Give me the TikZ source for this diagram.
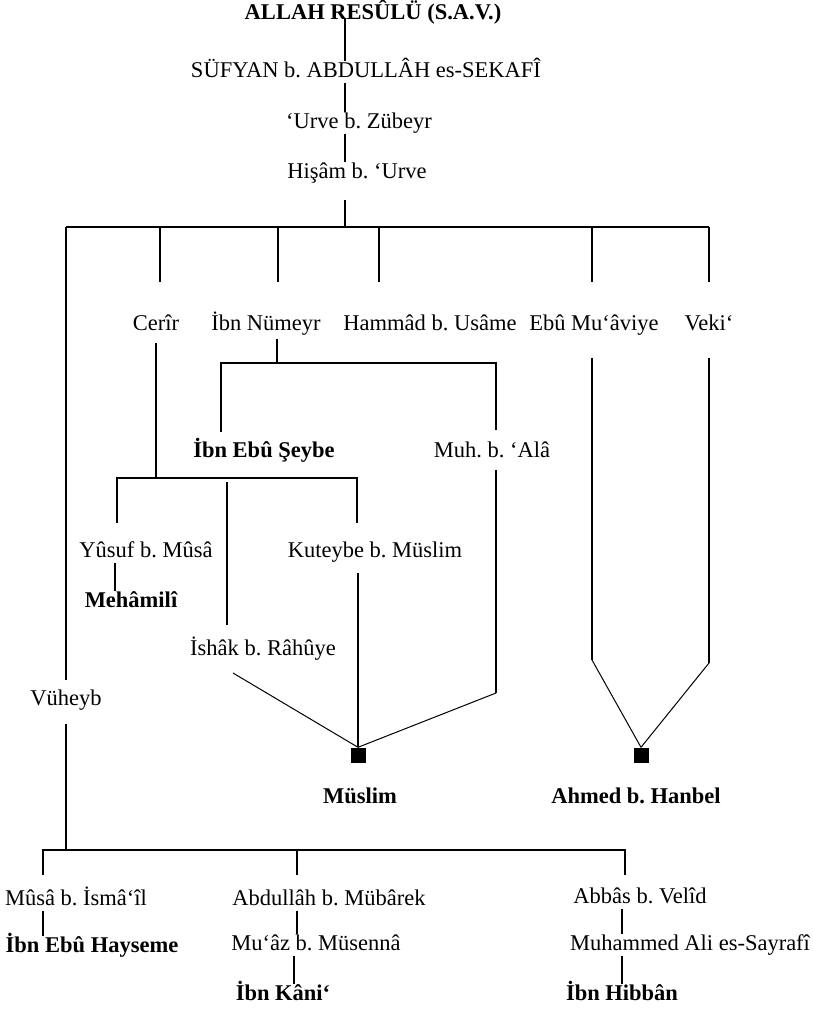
\documentclass[tikz,border=0pt]{standalone}
\usepackage{fontspec}
\setmainfont{Liberation Serif}
\usepackage{tikz}
\frenchspacing

\begin{document}
\begin{tikzpicture}[x=1pt,y=-1pt,
  ravi/.style={font=\fontsize{22.5}{27}\selectfont,text height=14pt,text depth=4pt,inner sep=1.5pt},
  musannif/.style={ravi,font=\bfseries\fontsize{22.5}{27}\selectfont},
  kutu/.style={fill=black,minimum size=15pt,inner sep=0pt},
  hat/.style={line width=1.8pt},
  ince/.style={line width=1pt}]
  \useasboundingbox (0,0) rectangle (813,1015);
  \node[musannif] (resul) at (373,14) {ALLAH RESÛLÜ (S.A.V.)};
  \node[ravi] (sufyan) at (366,72) {SÜFYAN b. ABDULLÂH es-SEKAFÎ};
  \node[ravi] (urve) at (359,123) {‘Urve b. Zübeyr};
  \node[ravi] (hisam) at (357,173) {Hişâm b. ‘Urve};
  \node[ravi] (cerir) at (156,325) {Cerîr};
  \node[ravi] (numeyr) at (266,325) {İbn Nümeyr};
  \node[ravi] (hammad) at (430,325) {Hammâd b. Usâme};
  \node[ravi] (muaviye) at (594,325) {Ebû Mu‘âviye};
  \node[ravi] (veki) at (709,325) {Veki‘};
  \node[musannif] (seybe) at (264,452) {İbn Ebû Şeybe};
  \node[ravi] (ala) at (492,452) {Muh. b. ‘Alâ};
  \node[ravi] (yusuf) at (146,552) {Yûsuf b. Mûsâ};
  \node[ravi] (kuteybe) at (375,552) {Kuteybe b. Müslim};
  \node[musannif] (mehamili) at (131,602) {Mehâmilî};
  \node[ravi] (ishak) at (263,650) {İshâk b. Râhûye};
  \node[ravi] (vuheyb) at (66,700) {Vüheyb};
  \node[kutu] (muslimkutu) at (358,755) {};
  \node[kutu] (hanbelkutu) at (641,755) {};
  \node[musannif] (muslim) at (360,798) {Müslim};
  \node[musannif] (hanbel) at (636,798) {Ahmed b. Hanbel};
  \node[ravi] (musa) at (76,900) {Mûsâ b. İsmâ‘îl};
  \node[ravi] (mubarek) at (329,900) {Abdullâh b. Mübârek};
  \node[ravi] (abbas) at (640,898) {Abbâs b. Velîd};
  \node[musannif] (hayseme) at (92,947) {İbn Ebû Hayseme};
  \node[ravi] (muaz) at (316,945) {Mu‘âz b. Müsennâ};
  \node[ravi] (sayrafi) at (690,945) {Muhammed Ali es-Sayrafî};
  \node[musannif] (kani) at (283,995) {İbn Kâni‘};
  \node[musannif] (hibban) at (622,995) {İbn Hibbân};
  \coordinate (kok) at (345,227);
  \coordinate (nb) at (277,363);
  \coordinate (cb) at (156,478);
  \coordinate (vb) at (66,850);

  \draw[hat] ([yshift=-4pt]resul.center -| kok) -- (sufyan.north -| kok);
  \draw[hat] (sufyan.south -| kok) -- (urve.north -| kok);
  \draw[hat] (urve.south -| kok) -- (hisam.north -| kok);
  \draw[hat,shorten <=16pt] (hisam.south -| kok) -- (kok);
  \draw[hat] (vuheyb |- kok) -- (veki |- kok);
  \draw[hat,shorten >=9pt] (vuheyb |- kok) -- (vuheyb.north);
  \foreach \x in {160,278,379,592,709}
    \draw[hat] (\x,227) -- ++(0,55);

  \draw[hat,shorten <=3pt] (numeyr.south -| nb) -- (nb);
  \draw[hat] (221,432) |- (496,363) -- (496,430);
  \draw[hat,shorten <=7pt] (cerir.south) -- (cb);
  \draw[hat] (117,523) |- (357,478) -- (357,523);
  \draw[hat] (227,482) -- (227,625);
  \draw[hat] (yusuf.south -| 115,0) -- (mehamili.north -| 115,0);

  \draw[hat,shorten <=10pt] (kuteybe.south -| muslimkutu) -- (muslimkutu.north);
  \draw[ince] (233,673) -- (muslimkutu.north);
  \draw[hat,shorten <=7pt] (ala.south -| 496,0) -- (496,693);
  \draw[ince] (496,693) -- (muslimkutu.north);
  \draw[hat,shorten <=22pt] (muaviye.south -| 592,0) -- (592,660);
  \draw[ince] (592,660) -- (hanbelkutu.north);
  \draw[hat,shorten <=22pt] (veki.south) -- (709,663);
  \draw[ince] (709,663) -- (hanbelkutu.north);

  \draw[hat,shorten <=13pt] (vuheyb.south) -- (vb);
  \draw[hat] (43,875) |- (625,850) -- (625,875);
  \draw[hat] (297,850) -- (297,875);
  \draw[hat] (musa.south -| 43,0) -- (hayseme.north -| 43,0);
  \draw[hat] (mubarek.south -| 297,0) -- (muaz.north -| 297,0);
  \draw[hat] (muaz.south -| 294,0) -- (kani.north -| 294,0);
  \draw[hat] (abbas.south -| 622,0) -- (sayrafi.north -| 622,0);
  \draw[hat] (sayrafi.south -| 622,0) -- (hibban.north -| 622,0);
\end{tikzpicture}
\end{document}
